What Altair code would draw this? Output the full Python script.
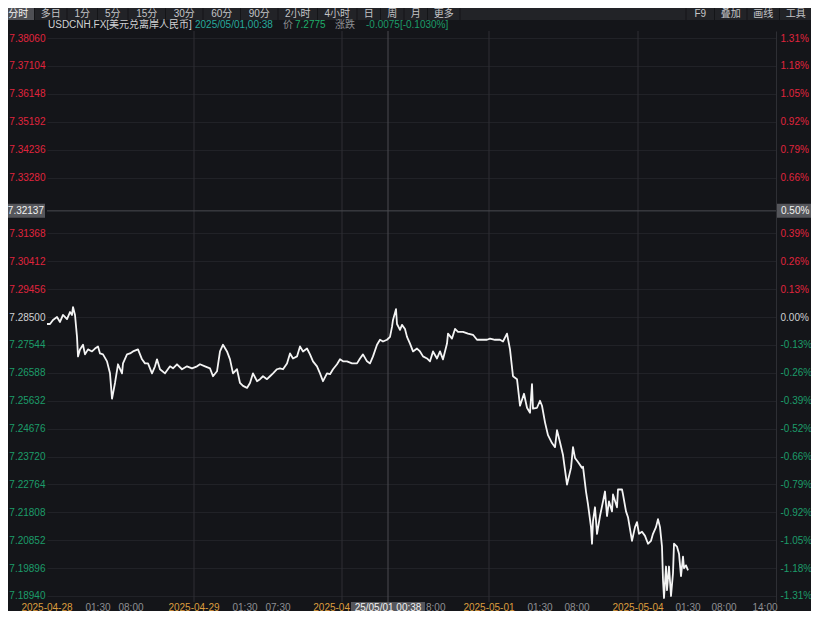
import altair as alt
import pandas as pd

# ---------------- data ----------------
minutes = [
    0, 30, 60, 100, 130, 160, 200, 230, 250, 260,
    280, 300, 310, 330, 360, 380, 410, 450, 480, 510,
    530, 560, 600, 630, 650, 680, 710, 750, 760, 800,
    830, 860, 910, 950, 980, 1010, 1050, 1080, 1100, 1130,
    1180, 1230, 1260, 1300, 1350, 1400, 1450, 1500, 1530, 1580,
    1630, 1660, 1700, 1730, 1760, 1800, 1830, 1860, 1900, 1930,
    1960, 2000, 2030, 2060, 2100, 2130, 2160, 2200, 2230, 2260,
    2300, 2330, 2360, 2400, 2430, 2460, 2500, 2530, 2560, 2600,
    2630, 2660, 2700, 2730, 2760, 2800, 2830, 2860, 2900, 2930,
    2960, 3000, 3050, 3100, 3130, 3160, 3200, 3230, 3260, 3300,
    3330, 3360, 3400, 3430, 3450, 3460, 3490, 3500, 3530, 3550,
    3580, 3600, 3630, 3660, 3700, 3730, 3760, 3800, 3830, 3860,
    3900, 3930, 3960, 4000, 4010, 4050, 4080, 4110, 4160, 4210,
    4260, 4300, 4330, 4400, 4430, 4480, 4530, 4560, 4600, 4630,
    4660, 4700, 4730, 4770, 4800, 4830, 4850, 4860, 4900, 4930,
    4950, 4980, 5010, 5050, 5080, 5100, 5130, 5160, 5200, 5240,
    5260, 5280, 5310, 5350, 5360, 5390, 5410, 5440, 5450, 5460,
    5480, 5500, 5530, 5560, 5580, 5600, 5620, 5650, 5660, 5700,
    5710, 5750, 5760, 5790, 5810, 5850, 5880, 5900, 5920, 5950,
    5980, 6010, 6040, 6060, 6090, 6110, 6130, 6150, 6160, 6170,
    6190, 6200, 6220, 6240, 6260, 6270, 6300, 6320, 6340, 6360,
    6370, 6390, 6410,
]
price = [
    7.2826, 7.2826, 7.2840, 7.2850, 7.2833, 7.2857, 7.2843, 7.2867, 7.2857, 7.2884,
    7.2857, 7.2782, 7.2715, 7.2739, 7.2755, 7.2722, 7.2739, 7.2732, 7.2742, 7.2749,
    7.2725, 7.2722, 7.2698, 7.2657, 7.2570, 7.2624, 7.2688, 7.2657, 7.2691, 7.2722,
    7.2725, 7.2732, 7.2739, 7.2705, 7.2691, 7.2691, 7.2657, 7.2681, 7.2705, 7.2671,
    7.2657, 7.2681, 7.2674, 7.2688, 7.2671, 7.2681, 7.2674, 7.2681, 7.2688, 7.2681,
    7.2674, 7.2647, 7.2664, 7.2732, 7.2755, 7.2732, 7.2705, 7.2657, 7.2671, 7.2624,
    7.2614, 7.2607, 7.2624, 7.2657, 7.2630, 7.2637, 7.2647, 7.2637, 7.2647, 7.2657,
    7.2671, 7.2674, 7.2671, 7.2691, 7.2725, 7.2708, 7.2715, 7.2749, 7.2732, 7.2742,
    7.2722, 7.2698, 7.2681, 7.2657, 7.2630, 7.2657, 7.2654, 7.2671, 7.2688, 7.2705,
    7.2698, 7.2698, 7.2691, 7.2691, 7.2708, 7.2722, 7.2698, 7.2691, 7.2715, 7.2755,
    7.2772, 7.2766, 7.2772, 7.2782, 7.2816, 7.2840, 7.2877, 7.2826, 7.2806, 7.2823,
    7.2809, 7.2782, 7.2759, 7.2732, 7.2742, 7.2732, 7.2715, 7.2708, 7.2698, 7.2732,
    7.2708, 7.2732, 7.2705, 7.2759, 7.2793, 7.2776, 7.2809, 7.2799, 7.2799, 7.2793,
    7.2789, 7.2772, 7.2772, 7.2772, 7.2776, 7.2772, 7.2772, 7.2766, 7.2793, 7.2739,
    7.2647, 7.2637, 7.2546, 7.2587, 7.2539, 7.2522, 7.2620, 7.2536, 7.2539, 7.2563,
    7.2546, 7.2489, 7.2445, 7.2418, 7.2404, 7.2462, 7.2421, 7.2377, 7.2276, 7.2333,
    7.2404, 7.2367, 7.2353, 7.2333, 7.2337, 7.2252, 7.2208, 7.2130, 7.2073, 7.2151,
    7.2198, 7.2107, 7.2168, 7.2218, 7.2252, 7.2168, 7.2218, 7.2184, 7.2242, 7.2198,
    7.2259, 7.2259, 7.2242, 7.2184, 7.2164, 7.2083, 7.2130, 7.2147, 7.2107, 7.2114,
    7.2100, 7.2073, 7.2083, 7.2107, 7.2130, 7.2157, 7.2130, 7.2063, 7.1948, 7.1887,
    7.1995, 7.1914, 7.1995, 7.1894, 7.1972, 7.2073, 7.2063, 7.2039, 7.1962, 7.2029,
    7.1989, 7.1999, 7.1982,
]

base_price = 7.28500
y_ticks = [7.38060, 7.37104, 7.36148, 7.35192, 7.34236, 7.33280, 7.32324,
           7.31368, 7.30412, 7.29456, 7.28500, 7.27544, 7.26588, 7.25632,
           7.24676, 7.23720, 7.22764, 7.21808, 7.20852, 7.19896, 7.18940]
pct_labels = ["1.31%", "1.18%", "1.05%", "0.92%", "0.79%", "0.66%", "0.52%",
              "0.39%", "0.26%", "0.13%", "0.00%", "-0.13%", "-0.26%", "-0.39%",
              "-0.52%", "-0.66%", "-0.79%", "-0.92%", "-1.05%", "-1.18%", "-1.31%"]

x_ticks = [0, 510, 840, 1470, 1980, 2310, 2950, 3460, 3830,
           4420, 4930, 5300, 5910, 6410, 6770, 7180]
x_labels = ["2025-04-28", "01:30", "08:00", "2025-04-29", "01:30", "07:30",
            "2025-04-30", "01:30", "08:00", "2025-05-01", "01:30", "08:00",
            "2025-05-04", "01:30", "08:00", "14:00"]
day_starts = [0, 1470, 2950, 4420, 5910]

cross_time = 3410
cross_price = 7.32137
cross_price_label = "7.32137"
cross_pct_label = "0.50%"
cross_time_label = "25/05/01 00:38"

tabs_left = ["分时", "多日", "1分", "5分", "15分", "30分", "60分", "90分",
             "2小时", "4小时", "日", "周", "月", "更多"]
tabs_right = ["F9", "叠加", "画线", "工具"]

header_texts = ["USDCNH.FX[美元兑离岸人民币]", "2025/05/01,00:38", "价",
                "7.2775", "涨跌", "-0.0075[-0.1030%]"]

# ---------------- style ----------------
FONT = "Liberation Sans, Noto Sans CJK SC, sans-serif"
BG = "#141519"
TOOLBAR_BG = "#222327"
TAB_ACTIVE = "#4e4f54"
TAB_TEXT = "#c4c5c8"
SEP = "#141518"
GRID = "#212227"
DAY_GRID = "#2e2f34"
CROSS = "#4a4b50"
BOX = "#55565b"
RED = "#e0243d"
GREEN = "#1c9c69"
NEUTRAL = "#d0d1d3"
ORANGE = "#dc9d3e"
GREY = "#8e8f93"
TEAL = "#27a99c"
PRICE_GREEN = "#1fae6b"

W, H = 729, 571
PAD = {"left": 39, "top": 23, "right": 35, "bottom": 9}
OX, OY = 47, 31  # page position of plot origin
BOX_HALF = 37     # half width of the time box, px

x_scale = alt.Scale(domain=[0, 7290], nice=False, zero=False)
y_scale = alt.Scale(domain=[7.187344, 7.383000], nice=False, zero=False)

df = pd.DataFrame({"t": minutes, "price": price})

# axis ticks: the one hidden under the crosshair price box is not labelled
shown = [i for i, v in enumerate(y_ticks) if abs(v - cross_price) > 0.003]
yv = [y_ticks[i] for i in shown]
yt_list = "[" + ",".join(repr(y_ticks[i]) for i in shown) + "]"
pl_list = "[" + ",".join("'" + pct_labels[i] + "'" for i in shown) + "]"

sign_color = {
    "condition": [
        {"test": f"datum.value > {base_price + 0.0001}", "value": RED},
        {"test": f"datum.value < {base_price - 0.0001}", "value": GREEN},
    ],
    "value": NEUTRAL,
}

left_axis = alt.Axis(
    orient="left", values=yv, format=".5f", labelColor=sign_color,
    labelFont=FONT, labelFontSize=10, labelPadding=2, labelBaseline="middle",
    ticks=False, tickSize=0, domain=False, grid=True, gridColor=GRID,
    gridWidth=1, title=None, labelOverlap=False,
)
right_axis = alt.Axis(
    orient="right", values=yv,
    labelExpr=f"{pl_list}[indexof({yt_list}, datum.value)]",
    labelColor=sign_color, labelFont=FONT, labelFontSize=10, labelPadding=4,
    labelAlign="left", labelBaseline="middle", ticks=False, tickSize=0,
    domain=True, domainColor=DAY_GRID, grid=False, title=None, labelOverlap=False,
)

# grid rules at session boundaries
day_rules = alt.Chart(pd.DataFrame({"t": day_starts[1:]})).mark_rule(
    color=DAY_GRID, strokeWidth=1
).encode(x=alt.X("t:Q", scale=x_scale, axis=None))

cross_df = pd.DataFrame({
    "t": [cross_time], "p": [cross_price],
    "pl": [cross_price_label], "pc": [cross_pct_label], "tl": [cross_time_label],
})
cross_v = alt.Chart(cross_df).mark_rule(color=CROSS, strokeWidth=1).encode(
    x=alt.X("t:Q", scale=x_scale, axis=None))
cross_h = alt.Chart(cross_df).mark_rule(color=CROSS, strokeWidth=1).encode(
    y=alt.Y("p:Q", scale=y_scale, axis=None))

line = alt.Chart(df).mark_line(color="#f4f4f4", strokeWidth=1.8,
                               strokeJoin="round").encode(
    x=alt.X("t:Q", scale=x_scale, axis=None),
    y=alt.Y("price:Q", scale=y_scale, axis=left_axis),
)
right = alt.Chart(df).mark_line(strokeOpacity=0).encode(
    x=alt.X("t:Q", scale=x_scale, axis=None),
    y=alt.Y("price:Q", scale=y_scale, axis=right_axis),
)

# x tick labels (drawn through the x scale); those near the time box are
# shown only with the part that peeks out beside the box
xl_df = pd.DataFrame({
    "t": x_ticks, "label": x_labels,
    "c": [ORANGE if t in day_starts else GREY for t in x_ticks],
})
near = (xl_df.t - cross_time).abs() <= 500
x_text = alt.Chart(xl_df[~near]).mark_text(
    align="center", baseline="middle", font=FONT, fontSize=10
).encode(
    x=alt.X("t:Q", scale=x_scale, axis=None), y=alt.value(H + 5.5),
    text="label:N", color=alt.Color("c:N", scale=None, legend=None))

left_part = x_labels[x_ticks.index(2950)][:7]    # "2025-04" visible left of box
right_part = x_labels[x_ticks.index(3830)][1:]   # "8:00" visible right of box
x_text_l = alt.Chart(cross_df).mark_text(
    align="right", baseline="middle", font=FONT, fontSize=10, color=ORANGE,
    dx=-(BOX_HALF + 1), text=left_part
).encode(x=alt.X("t:Q", scale=x_scale, axis=None), y=alt.value(H + 5.5))
x_text_r = alt.Chart(cross_df).mark_text(
    align="left", baseline="middle", font=FONT, fontSize=10, color=GREY,
    dx=BOX_HALF + 1, text=right_part
).encode(x=alt.X("t:Q", scale=x_scale, axis=None), y=alt.value(H + 5.5))

# crosshair label boxes
lbox = alt.Chart(cross_df).mark_rect(color=BOX, yOffset=-7, y2Offset=7).encode(
    x=alt.value(-OX), x2=alt.value(-2),
    y=alt.Y("p:Q", scale=y_scale, axis=None), y2="p:Q")
ltext = alt.Chart(cross_df).mark_text(
    align="right", baseline="middle", font=FONT, fontSize=10, color="#f2f2f2"
).encode(x=alt.value(-3), y=alt.Y("p:Q", scale=y_scale, axis=None), text="pl:N")
rbox = alt.Chart(cross_df).mark_rect(color=BOX, yOffset=-7, y2Offset=7).encode(
    x=alt.value(W + 1), x2=alt.value(W + 50),
    y=alt.Y("p:Q", scale=y_scale, axis=None), y2="p:Q")
rtext = alt.Chart(cross_df).mark_text(
    align="left", baseline="middle", font=FONT, fontSize=10, color="#f2f2f2"
).encode(x=alt.value(W + 5), y=alt.Y("p:Q", scale=y_scale, axis=None), text="pc:N")
bbox = alt.Chart(cross_df).mark_rect(
    color=BOX, xOffset=-BOX_HALF, x2Offset=BOX_HALF
).encode(
    x=alt.X("t:Q", scale=x_scale, axis=None), x2="t:Q",
    y=alt.value(H), y2=alt.value(H + 11))
btext = alt.Chart(cross_df).mark_text(
    align="center", baseline="middle", font=FONT, fontSize=10, color="#f2f2f2"
).encode(x=alt.X("t:Q", scale=x_scale, axis=None), y=alt.value(H + 5.5), text="tl:N")

# toolbar layout (computed from label lengths)
def tab_w(s):
    wide = sum(1 for ch in s if ord(ch) > 255)
    return 14.5 + 9 * wide + 7 * (len(s) - wide)

tab_rows, sep_x = [], []
x0 = 2.0
for i, s in enumerate(tabs_left):
    w = tab_w(s)
    tab_rows.append({"x": x0 + w / 2 - OX, "label": s,
                     "c": "#f0f0f0" if i == 0 else TAB_TEXT})
    if i == 0:
        active_w = x0 + w
    x0 += w
    sep_x.append(x0 - OX)
x1 = 812.0
sep_x.append(x1 - OX)
for s in reversed(tabs_right):
    w = tab_w(s)
    tab_rows.append({"x": x1 - w / 2 - OX, "label": s, "c": TAB_TEXT})
    x1 -= w
    sep_x.append(x1 - OX)

one = pd.DataFrame({"k": [0]})
TB_Y0, TB_Y1 = 8 - OY, 20 - OY
tb_bg = alt.Chart(one).mark_rect(color=TOOLBAR_BG).encode(
    x=alt.value(-OX), x2=alt.value(W + 60), y=alt.value(TB_Y0), y2=alt.value(TB_Y1))
tb_active = alt.Chart(one).mark_rect(color=TAB_ACTIVE).encode(
    x=alt.value(-OX), x2=alt.value(active_w - OX), y=alt.value(TB_Y0), y2=alt.value(TB_Y1))
tb_sep = alt.Chart(pd.DataFrame({"x": sep_x})).mark_rule(color=SEP, strokeWidth=1).encode(
    x=alt.X("x:Q", scale=None, axis=None), y=alt.value(TB_Y0), y2=alt.value(TB_Y1))
tb_text = alt.Chart(pd.DataFrame(tab_rows)).mark_text(
    align="center", baseline="middle", font=FONT, fontSize=10
).encode(
    x=alt.X("x:Q", scale=None, axis=None), y=alt.value((TB_Y0 + TB_Y1) / 2),
    text="label:N", color=alt.Color("c:N", scale=None, legend=None))

header_df = pd.DataFrame({
    "x": [48 - OX, 195 - OX, 283 - OX, 295 - OX, 335 - OX, 366 - OX],
    "label": header_texts,
    "c": [NEUTRAL, TEAL, GREY, PRICE_GREEN, GREY, GREEN],
})
header = alt.Chart(header_df).mark_text(
    align="left", baseline="middle", font=FONT, fontSize=10
).encode(
    x=alt.X("x:Q", scale=None, axis=None), y=alt.value(24.5 - OY),
    text="label:N", color=alt.Color("c:N", scale=None, legend=None))

chart = alt.layer(
    day_rules, cross_v, cross_h, line, right, x_text, x_text_l, x_text_r,
    lbox, ltext, rbox, rtext, bbox, btext,
    tb_bg, tb_active, tb_sep, tb_text, header,
).resolve_axis(y="independent").properties(
    width=W, height=H, padding=PAD,
    autosize=alt.AutoSizeParams(type="none"),
    background=BG,
).configure_view(stroke=None)

chart.save("out.html", embed_options={"renderer": "svg", "actions": False})
